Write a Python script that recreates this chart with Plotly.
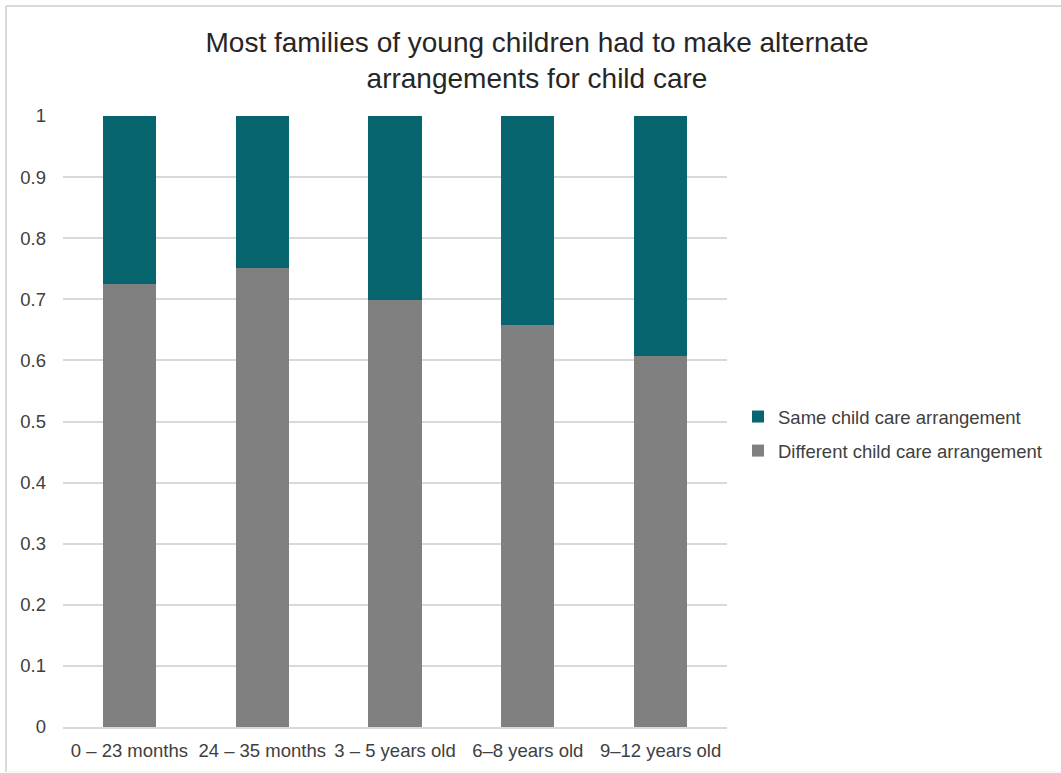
import plotly.graph_objects as go

# Age groups and share of families by child care arrangement
categories = ["0 – 23 months", "24 – 35 months", "3 – 5 years old", "6–8 years old", "9–12 years old"]
different_share = [0.725, 0.751, 0.699, 0.658, 0.607]
same_share = [round(1 - v, 3) for v in different_share]

W, H = 1061, 773
L, R, T, B = 63, 334, 116, 46
plot_w, plot_h = W - L - R, H - T - B


def px_x(px):
    return (px - L) / plot_w


def px_y(py):
    return (H - B - py) / plot_h


font_family = "Liberation Sans, Arial, sans-serif"

fig = go.Figure()
fig.add_trace(go.Bar(
    x=categories, y=different_share, name="Different child care arrangement",
    legendgroup="different", legendrank=2,
    marker=dict(color="#808080", line=dict(width=0)),
))
fig.add_trace(go.Bar(
    x=categories, y=same_share, name="Same child care arrangement",
    legendgroup="same", legendrank=1,
    marker=dict(color="#07656F", line=dict(width=0)),
))

fig.update_layout(
    width=W, height=H,
    barmode="stack", bargap=0.6,
    plot_bgcolor="white", paper_bgcolor="white",
    margin=dict(l=L, r=R, t=T, b=B, pad=0),
    font=dict(family=font_family, color="#404040", size=18.5),
    title=dict(
        text="Most families of young children had to make alternate<br>arrangements for child care",
        x=537 / W, xanchor="center", y=1 - 52 / H, yanchor="top",
        font=dict(size=28, color="#262626", family=font_family),
    ),
    xaxis=dict(
        showgrid=False, showline=True, linecolor="#D9D9D9", linewidth=2,
        ticks="", ticklabelstandoff=6, tickfont=dict(size=18.5, color="#404040"),
    ),
    yaxis=dict(
        range=[0, 1], dtick=0.1, showgrid=True, gridcolor="#D9D9D9", gridwidth=2,
        zeroline=False, showline=False, ticks="", ticklabelstandoff=16,
        tickfont=dict(size=18.5, color="#404040"),
        tickformat="~g",
    ),
    legend=dict(
        traceorder="grouped", x=px_x(738), xanchor="left", y=px_y(398), yanchor="top",
        font=dict(size=18.5, color="#404040"), itemwidth=30, tracegroupgap=7,
        bgcolor="rgba(0,0,0,0)",
    ),
    shapes=[
        # chart frame: left and top edges
        dict(type="line", xref="paper", yref="paper",
             x0=px_x(6), x1=px_x(6), y0=px_y(6), y1=px_y(772),
             line=dict(color="#D9D9D9", width=2)),
        dict(type="line", xref="paper", yref="paper",
             x0=px_x(6), x1=px_x(1061), y0=px_y(6), y1=px_y(6),
             line=dict(color="#D9D9D9", width=2)),
        dict(type="line", xref="paper", yref="paper",
             x0=px_x(6), x1=px_x(1061), y0=px_y(772), y1=px_y(772),
             line=dict(color="#F0F0F0", width=1)),
    ],
)

fig.write_html("out.html")
